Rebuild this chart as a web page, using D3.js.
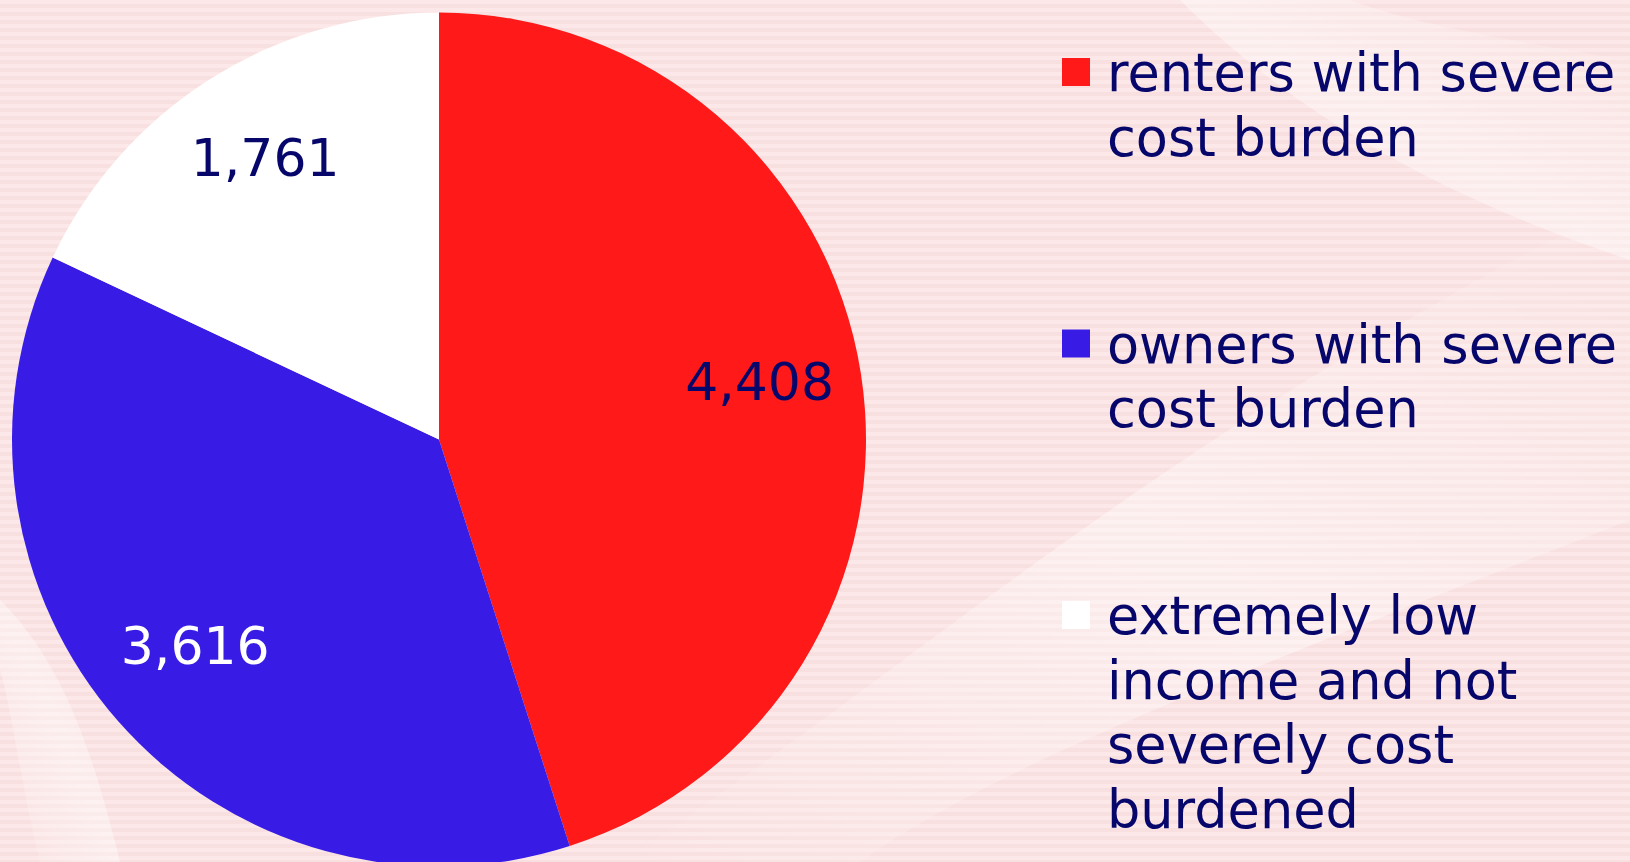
<!DOCTYPE html>
<html>
<head>
<meta charset="utf-8">
<script src="https://cdn.jsdelivr.net/npm/d3@7"></script>
<style>
	html, body { margin: 0; padding: 0; overflow: hidden; }
	svg { display: block; }
	.legendText { font-family: "DejaVu Sans", sans-serif; font-size: 52.5px; fill: #06066b; }
	.sliceLabel { font-family: "DejaVu Sans", sans-serif; font-size: 52px; }
</style>
</head>
<body>
<script>
// chart data
const categories = ["renters with severe cost burden", "owners with severe cost burden", "extremely low income and not severely cost burdened"],
	values = [4408, 3616, 1761],
	sliceColors = ["#ff1919", "#381ce6", "#ffffff"],
	labelColors = ["#06066b", "#ffffff", "#06066b"],
	legendLines = [
		["renters with severe", "cost burden"],
		["owners with severe", "cost burden"],
		["extremely low", "income and not", "severely cost", "burdened"]
	];

const w = 1630,
	  h = 862,
	  cx = 439,
	  cy = 439.5,
	  radius = 427,
	  svg = d3.select("body")
			  .append("svg")
			  .attr("width", w)
			  .attr("height", h);

// background: pink with faint horizontal stripes and lighter diagonal sweeps
const defs = svg.append("defs");
const stripes = defs.append("pattern")
					.attr("id", "stripes")
					.attr("patternUnits", "userSpaceOnUse")
					.attr("width", 8)
					.attr("height", 8);
stripes.append("rect").attr("width", 8).attr("height", 8).attr("fill", "#fce8e8");
stripes.append("rect").attr("y", 4).attr("width", 8).attr("height", 4).attr("fill", "#f9e0e0");

const glow = defs.append("linearGradient")
				 .attr("id", "glow")
				 .attr("x1", "0").attr("y1", "1").attr("x2", "1").attr("y2", "0");
glow.append("stop").attr("offset", "0").attr("stop-color", "#fff").attr("stop-opacity", 0);
glow.append("stop").attr("offset", "0.5").attr("stop-color", "#fff").attr("stop-opacity", 0.4);
glow.append("stop").attr("offset", "1").attr("stop-color", "#fff").attr("stop-opacity", 0);

svg.append("rect")
   .attr("width", w)
   .attr("height", h)
   .attr("fill", "url(#stripes)");

const sweeps = [
	"M 620 862 C 900 680, 1150 440, 1630 200 L 1630 520 C 1300 650, 1000 760, 860 862 Z",
	"M 1180 0 C 1300 120, 1450 200, 1630 260 L 1630 60 C 1500 40, 1400 20, 1350 0 Z",
	"M 0 600 C 60 660, 90 740, 120 862 L 40 862 C 20 780, 10 700, 0 670 Z"
];
svg.selectAll("path.sweep")
   .data(sweeps)
   .enter()
   .append("path")
   .attr("class", "sweep")
   .attr("d", d => d)
   .attr("fill", "url(#glow)");

// pie
const pie = d3.pie().sort(null).value(d => d)(values),
	  arc = d3.arc().innerRadius(0).outerRadius(radius),
	  labelArc = d3.arc().innerRadius(radius * 0.76).outerRadius(radius * 0.76);

const g = svg.append("g")
			 .attr("transform", "translate(" + cx + "," + cy + ")");

g.selectAll("path.slice")
 .data(pie)
 .enter()
 .append("path")
 .attr("class", "slice")
 .attr("d", arc)
 .attr("fill", (d, i) => sliceColors[i]);

g.selectAll("text.sliceLabel")
 .data(pie)
 .enter()
 .append("text")
 .attr("class", "sliceLabel")
 .attr("transform", d => "translate(" + labelArc.centroid(d) + ")")
 .attr("text-anchor", "middle")
 .attr("dy", "0.2em")
 .attr("fill", (d, i) => labelColors[i])
 .text(d => d3.format(",")(d.data));

// legend
const legendX = 1062,
	  legendTop = 91,
	  itemStep = 271.5,
	  lineHeight = 64.5,
	  box = 28;

const legend = svg.selectAll("g.legendItem")
				  .data(categories)
				  .enter()
				  .append("g")
				  .attr("class", "legendItem")
				  .attr("transform", (d, i) => "translate(" + legendX + "," + (legendTop + i * itemStep) + ")");

legend.append("rect")
	  .attr("x", 0)
	  .attr("y", -33)
	  .attr("width", box)
	  .attr("height", box)
	  .attr("fill", (d, i) => sliceColors[i]);

legend.append("text")
	  .attr("class", "legendText")
	  .selectAll("tspan")
	  .data((d, i) => legendLines[i])
	  .enter()
	  .append("tspan")
	  .attr("x", 45)
	  .attr("y", (d, j) => j * lineHeight)
	  .text(d => d);
</script>
</body>
</html>
